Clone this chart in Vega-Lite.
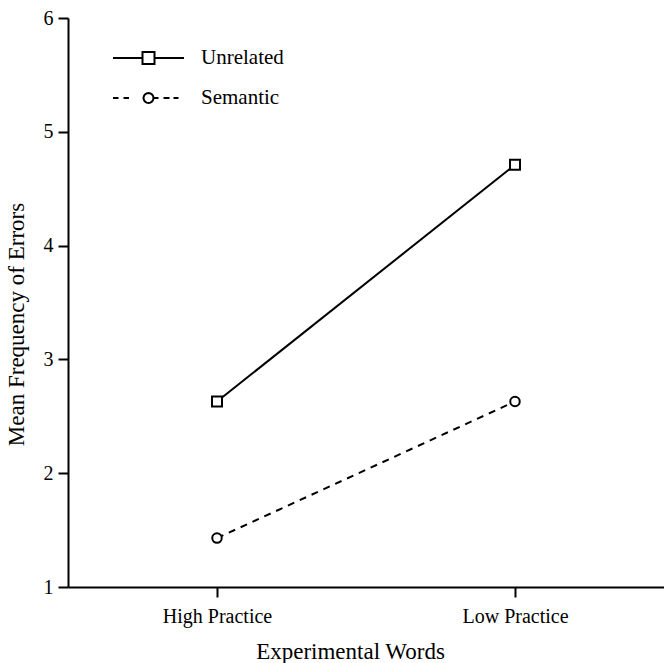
{
  "$schema": "https://vega.github.io/schema/vega-lite/v6.json",
  "autosize": "none",
  "width": 596,
  "height": 569,
  "padding": {"left": 68, "top": 18, "right": 0, "bottom": 76},
  "background": "white",
  "config": {
    "view": {"stroke": null},
    "font": "Liberation Serif",
    "axis": {"grid": false, "domainColor": "black", "domainWidth": 2, "tickColor": "black", "tickWidth": 2, "labelColor": "black", "titleColor": "black", "labelFont": "Liberation Serif", "titleFont": "Liberation Serif", "labelFontSize": 20, "titleFontSize": 23, "titleFontWeight": "normal"},
    "legend": {
      "title": null,
      "orient": "none",
      "legendX": 44,
      "legendY": 20,
      "padding": 0,
      "clipHeight": 40,
      "rowPadding": 0,
      "symbolSize": 5041,
      "symbolStrokeWidth": 2,
      "symbolStrokeColor": "black",
      "symbolFillColor": "white",
      "labelOffset": 16,
      "labelFontSize": 21,
      "labelFont": "Liberation Serif",
      "labelColor": "black"
    }
  },
  "data": {
    "values": [
      {"words": "High Practice", "series": "Unrelated", "errors": 2.63},
      {"words": "Low Practice", "series": "Unrelated", "errors": 4.71},
      {"words": "High Practice", "series": "Semantic", "errors": 1.43},
      {"words": "Low Practice", "series": "Semantic", "errors": 2.63}
    ]
  },
  "encoding": {
    "x": {
      "field": "words", "type": "ordinal",
      "sort": ["High Practice", "Low Practice"],
      "scale": {"type": "point", "padding": 0.5},
      "axis": {"title": "Experimental Words", "labelAngle": 0, "tickSize": 10, "labelPadding": 9, "titlePadding": 14, "titleX": 282}
    },
    "y": {
      "field": "errors", "type": "quantitative",
      "scale": {"domain": [1, 6], "nice": false, "zero": false},
      "axis": {"title": "Mean Frequency of Errors", "values": [1, 2, 3, 4, 5, 6], "tickSize": 10, "labelPadding": 5, "titleX": -45, "titleY": 306, "titleBaseline": "alphabetic"}
    }
  },
  "layer": [
    {
      "transform": [{"filter": "datum.series === 'Unrelated'"}],
      "mark": {"type": "line", "strokeWidth": 2},
      "encoding": {
        "color": {
          "field": "series", "type": "nominal",
          "scale": {"domain": ["Unrelated", "Semantic"], "range": ["black", "black"]},
          "legend": {
            "title": null,
            "orient": "none",
            "legendX": 44,
            "legendY": 20,
            "encode": {
              "symbols": {
                "update": {
                  "shape": {"signal": "datum.value === 'Unrelated' ? 'M-1,0H-0.169M0.169,0H1M-0.169,-0.169H0.169V0.169H-0.169Z' : 'M-1,0H-0.845M-0.704,0H-0.549M0.141,0H0.282M0.423,0H0.592M0.704,0H0.845M0.141,0L0.1303,0.054L0.0997,0.0997L0.054,0.1303L0,0.141L-0.054,0.1303L-0.0997,0.0997L-0.1303,0.054L-0.141,0L-0.1303,-0.054L-0.0997,-0.0997L-0.054,-0.1303L0,-0.141L0.054,-0.1303L0.0997,-0.0997L0.1303,-0.054Z'"},
                  "fill": {"value": "white"},
                  "stroke": {"value": "black"},
                  "opacity": {"value": 1}
                }
              }
            }
          }
        }
      }
    },
    {
      "transform": [{"filter": "datum.series === 'Semantic'"}],
      "mark": {"type": "line", "strokeWidth": 2, "strokeDash": [7, 6]},
      "encoding": {
        "color": {"field": "series", "type": "nominal"}
      }
    },
    {
      "transform": [{"filter": "datum.series === 'Unrelated'"}],
      "mark": {"type": "point", "shape": "square", "filled": true, "fill": "white", "stroke": "black", "strokeWidth": 2, "size": 100, "opacity": 1}
    },
    {
      "transform": [{"filter": "datum.series === 'Semantic'"}],
      "mark": {"type": "point", "shape": "circle", "filled": true, "fill": "white", "stroke": "black", "strokeWidth": 2, "size": 90, "opacity": 1}
    }
  ]
}
